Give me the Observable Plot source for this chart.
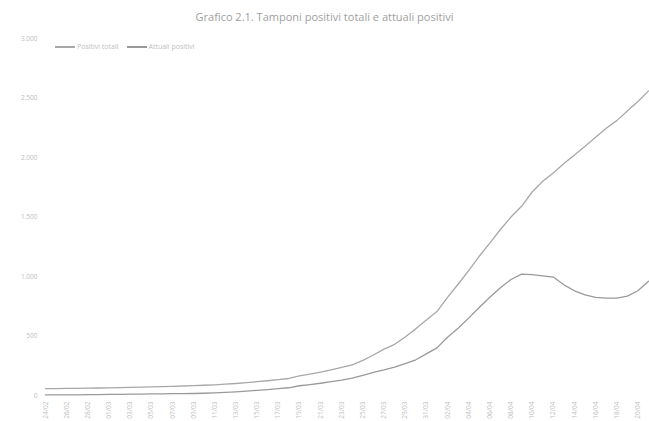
<!DOCTYPE html>
<html>
<head>
<meta charset="utf-8">
<script src="https://cdn.jsdelivr.net/npm/d3@7"></script>
<script src="https://cdn.jsdelivr.net/npm/@observablehq/plot@0.6"></script>
<style>
  body { margin: 0; background: #fff; font-family: "Open Sans", "DejaVu Sans", sans-serif; }
  #wrap { position: relative; width: 649px; }
  #title { height: 30px; line-height: 34px; text-align: center; font-size: 11px; color: #a0a0a0; }
  #legend { position: absolute; left: 55px; top: 42px; font-size: 7px; color: #c0c0c0; display: flex; gap: 8px; align-items: center; }
  #legend span.sw { display: inline-block; width: 20px; height: 2px; vertical-align: middle; margin-right: 2px; }
</style>
</head>
<body>
<div id="wrap">
  <div id="title">Grafico 2.1. Tamponi positivi totali e attuali positivi</div>
  <div id="legend"></div>
  <div id="chart"></div>
</div>
<script>
const startDate = "2020-02-24";
const seriesNames = ["Positivi totali", "Attuali positivi"];
const seriesColors = ["#a8a8a8", "#9a9a9a"];
const totali = [58, 58, 60, 60, 62, 63, 64, 66, 68, 70, 72, 74, 77, 80, 83, 86, 90, 95, 101, 108,
  116, 124, 133, 143, 165, 180, 196, 215, 236, 258, 295, 340, 390, 430, 492, 560, 635, 705, 825, 935,
  1050, 1170, 1280, 1395, 1500, 1590, 1710, 1800, 1870, 1950, 2020, 2095, 2170, 2245, 2310, 2390, 2470, 2560];
const attuali = [5, 5, 6, 6, 8, 8, 9, 10, 11, 12, 13, 14, 15, 16, 17, 19, 22, 26, 31, 37,
  43, 50, 57, 65, 82, 92, 103, 117, 130, 146, 170, 195, 215, 238, 268, 300, 350, 400, 490, 565,
  650, 740, 825, 905, 975, 1020, 1015, 1005, 995, 930, 880, 845, 825, 818, 818, 835, 880, 960];
const yTicks = [0, 500, 1000, 1500, 2000, 2500, 3000];

const start = new Date(startDate + "T00:00:00Z");
const dates = d3.utcDay.range(start, d3.utcDay.offset(start, totali.length));
const xTicks = dates.filter((d, i) => i % 2 === 0);
const fmtDate = d => `${String(d.getUTCDate()).padStart(2,"0")}/${String(d.getUTCMonth()+1).padStart(2,"0")}`;
const fmtNum = v => v >= 1000 ? `${Math.floor(v/1000)}.${String(v%1000).padStart(3,"0")}` : String(v);

const data = [
  ...dates.map((d, i) => ({date: d, value: totali[i], series: seriesNames[0]})),
  ...dates.map((d, i) => ({date: d, value: attuali[i], series: seriesNames[1]}))
];

const leg = document.getElementById("legend");
seriesNames.forEach((n, i) => {
  const s = document.createElement("span");
  s.innerHTML = `<span class="sw" style="background:${seriesColors[i]}"></span>${n}`;
  leg.appendChild(s);
});

const chart = Plot.plot({
  width: 649,
  height: 391,
  marginTop: 8,
  marginBottom: 26,
  marginLeft: 45,
  marginRight: 1,
  style: {fontSize: "6.5px", color: "#c0c0c0", fontFamily: "Open Sans, DejaVu Sans, sans-serif"},
  x: {type: "utc", domain: [dates[0], dates[dates.length - 1]], ticks: xTicks, tickFormat: fmtDate, tickRotate: -90, tickSize: 0, tickPadding: 6, label: null},
  y: {domain: [0, 3000], ticks: yTicks, tickFormat: fmtNum, tickSize: 0, tickPadding: 8, label: null},
  color: {domain: seriesNames, range: seriesColors},
  marks: [
    Plot.lineY(data, {x: "date", y: "value", stroke: "series", strokeWidth: 1.3})
  ]
});
document.getElementById("chart").appendChild(chart);
</script>
</body>
</html>
